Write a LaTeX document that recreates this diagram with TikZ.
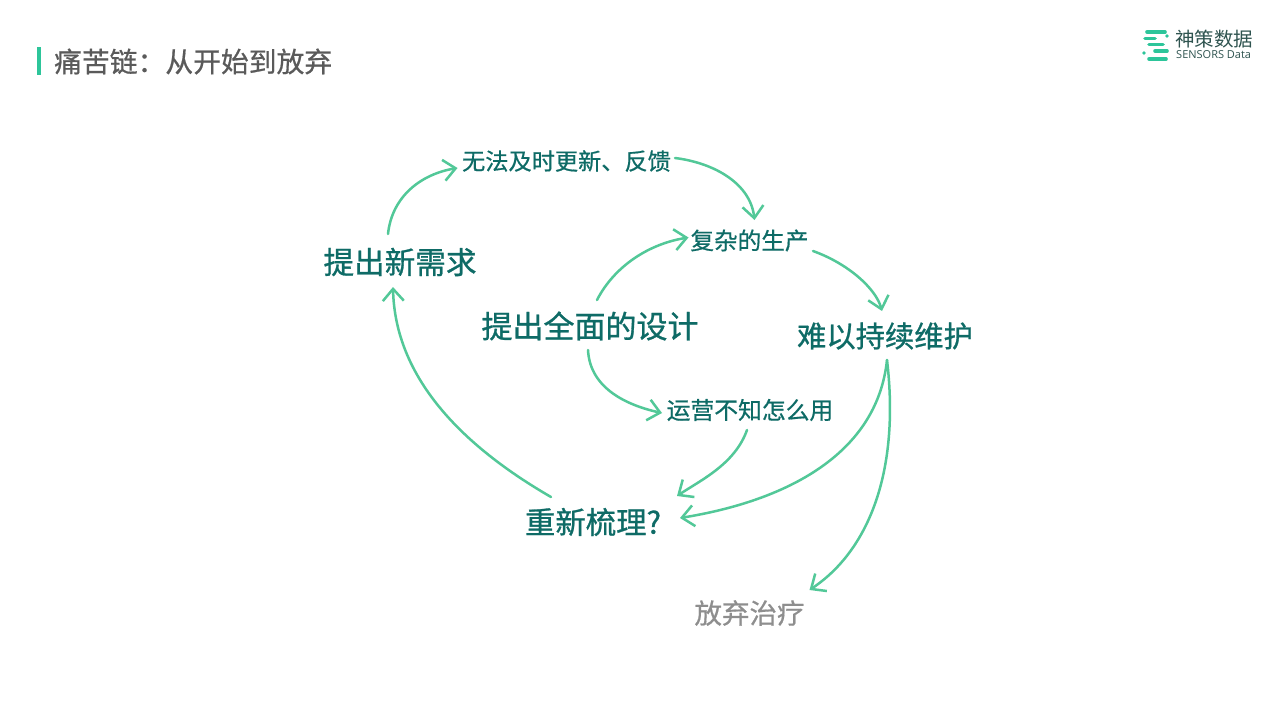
\documentclass[tikz,border=0pt]{standalone}
\usepackage{fontspec}
\usetikzlibrary{arrows.meta}
\setmainfont{Noto Sans CJK SC}
\newfontfamily\cjkmed[FakeBold=0.9]{Noto Sans CJK SC}
\newfontfamily\cjkhalf[FakeBold=0.6]{Noto Sans CJK SC}
\newfontfamily\latinlogo{Open Sans}
\definecolor{teal1}{HTML}{0E6B66}
\definecolor{arrowgreen}{HTML}{52C898}
\definecolor{barcol}{HTML}{2DC59A}
\definecolor{titlegray}{HTML}{5A5A5A}
\definecolor{givegray}{HTML}{8E8E8E}
\definecolor{logotext}{HTML}{2F5450}
\tikzset{
  big/.style={inner sep=0pt,text=teal1},
  small/.style={inner sep=0pt,text=teal1},
  link/.style={draw=arrowgreen,line width=2.5pt,line cap=round,-{Straight Barb[length=12pt,width=21pt,line width=2.5pt]}},
  logobar/.style={draw=barcol,line width=3.6pt,line cap=round},
}
\begin{document}
\begin{tikzpicture}[x=1pt,y=-1pt]
\useasboundingbox (0,0) rectangle (1280,720);
\fill[white] (0,0) rectangle (1280,720);
% title
\fill[barcol] (37,47) rectangle (41,75);
\node[anchor=west,inner sep=0pt,text=titlegray,font=\fontsize{27.8}{30}\cjkhalf] (title) at (54,61.5) {痛苦链^^^^ff1a从开始到放弃};
% logo
\draw[logobar] (1147,32) -- (1165,32);
\draw[logobar] (1145,38.5) -- (1155,38.5);
\fill[barcol] (1167,36) circle (1.8);
\draw[logobar] (1149,44.5) -- (1163,44.5);
\draw[logobar] (1155,51) -- (1167,51);
\fill[barcol] (1144,53) circle (1.8);
\draw[logobar] (1149,59) -- (1166,59);
\node[anchor=west,inner sep=0pt,text=logotext,font=\fontsize{19.5}{21}\selectfont] (logocn) at (1175,39.5) {神策数据};
\node[anchor=west,inner sep=0pt,text=logotext,font=\fontsize{11}{12}\latinlogo] (logoen) at (1176,55) {SENSORS Data};
% nodes
\node[big,font=\fontsize{30.6}{32}\cjkmed] (need) at (400,262) {提出新需求};
\node[small,font=\fontsize{23.2}{26}\cjkhalf] (nofeed) at (566.5,161) {无法及时更新、反馈};
\node[small,font=\fontsize{23.6}{26}\cjkhalf] (prod) at (749.5,240.5) {复杂的生产};
\node[big,font=\fontsize{31}{32}\cjkmed] (design) at (590,326) {提出全面的设计};
\node[big,font=\fontsize{29.3}{32}\cjkmed] (hard) at (885,336) {难以持续维护};
\node[small,font=\fontsize{23.8}{26}\cjkhalf] (ops) at (750,410) {运营不知怎么用};
\node[big,font=\fontsize{30.4}{32}\cjkmed] (redo) at (593,522) {重新梳理?};
\node[inner sep=0pt,text=givegray,font=\fontsize{27.5}{30}\cjkhalf] (give) at (749.5,613) {放弃治疗};
% connectors (second control point is relative to the end point)
\draw[link] ([shift={(-12,-28)}]need.center) .. controls +(4,-38) and +(-36,6) .. ([shift={(-109,7)}]nofeed.center);
\draw[link] ([shift={(108.5,-3)}]nofeed.center) .. controls +(40,5) and +(-4,-36) .. ([shift={(5,-20.5)}]prod.center);
\draw[link] ([shift={(7,-26)}]design.center) .. controls +(18,-35) and +(-38,6) .. ([shift={(-61,-3)}]prod.center);
\draw[link] ([shift={(63.5,10.5)}]prod.center) .. controls +(36,13) and +(-6,-22) .. ([shift={(-3,-25)}]hard.center);
\draw[link] ([shift={(-2,24)}]design.center) .. controls +(2,40) and +(-32,-7) .. ([shift={(-88,3)}]ops.center);
\draw[link] ([shift={(-3,20)}]ops.center) .. controls +(-12,34) and +(24,-16) .. ([shift={(84,-26)}]redo.center);
\draw[link] ([shift={(2,24)}]hard.center) .. controls +(-10,95) and +(105,-17) .. ([shift={(87,-4)}]redo.center);
\draw[link] ([shift={(2,24)}]hard.center) .. controls +(13,110) and +(60,-40) .. ([shift={(60,-23)}]give.center);
\draw[link] ([shift={(-42,-25)}]redo.center) .. controls +(-90,-52) and +(2,90) .. ([shift={(-7,25)}]need.center);
\end{tikzpicture}
\end{document}
